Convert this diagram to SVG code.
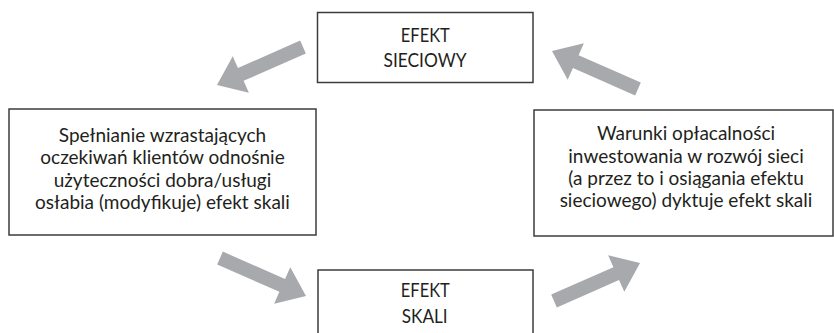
<svg xmlns="http://www.w3.org/2000/svg" width="834" height="333" viewBox="0 0 834 333">
  <style>
    .box { fill: #ffffff; stroke: #3c3c3c; stroke-width: 1.5; }
    .lbl { font-family: Lato, "Open Sans", sans-serif; font-size: 19px; fill: #231f20; text-anchor: middle; }
    .arrow { fill: #a7a9ac; }
  </style>
  <defs>
    <!-- thick block arrow, tail at origin, pointing along +x -->
    <polygon id="blockArrow" points="0,-7 68,-7 68,-20 94,0 68,20 68,7 0,7"/>
  </defs>

  <g id="connectors">
    <use href="#blockArrow" class="arrow" transform="translate(303,47) rotate(156.2)"/>
    <use href="#blockArrow" class="arrow" transform="translate(638,89) rotate(203.8)"/>
    <use href="#blockArrow" class="arrow" transform="translate(220,258) rotate(23.8)"/>
    <use href="#blockArrow" class="arrow" transform="translate(554,301) rotate(-23.8)"/>
  </g>

  <g id="efekt-sieciowy">
    <rect class="box" x="317.5" y="12.5" width="215.5" height="70"/>
    <text class="lbl" x="425.3" y="42.3" textLength="49" lengthAdjust="spacingAndGlyphs">EFEKT</text>
    <text class="lbl" x="425" y="66.7" textLength="83" lengthAdjust="spacingAndGlyphs">SIECIOWY</text>
  </g>

  <g id="spelnianie">
    <rect class="box" x="9" y="109" width="307" height="126"/>
    <text class="lbl" x="162.5" y="141.5">Spełnianie wzrastających</text>
    <text class="lbl" x="162.5" y="164">oczekiwań klientów odnośnie</text>
    <text class="lbl" x="162.5" y="186.5">użyteczności dobra/usługi</text>
    <text class="lbl" x="162.5" y="208.5">osłabia (modyfikuje) efekt skali</text>
  </g>

  <g id="warunki">
    <rect class="box" x="534" y="110" width="299" height="126"/>
    <text class="lbl" x="686" y="140">Warunki opłacalności</text>
    <text class="lbl" x="686" y="162.5">inwestowania w rozwój sieci</text>
    <text class="lbl" x="686" y="184.5">(a przez to i osiągania efektu</text>
    <text class="lbl" x="686" y="207">sieciowego) dyktuje efekt skali</text>
  </g>

  <g id="efekt-skali">
    <rect class="box" x="318" y="270" width="215" height="70"/>
    <text class="lbl" x="425.3" y="297.3" textLength="49" lengthAdjust="spacingAndGlyphs">EFEKT</text>
    <text class="lbl" x="424.7" y="323.3" textLength="46" lengthAdjust="spacingAndGlyphs">SKALI</text>
  </g>
</svg>
